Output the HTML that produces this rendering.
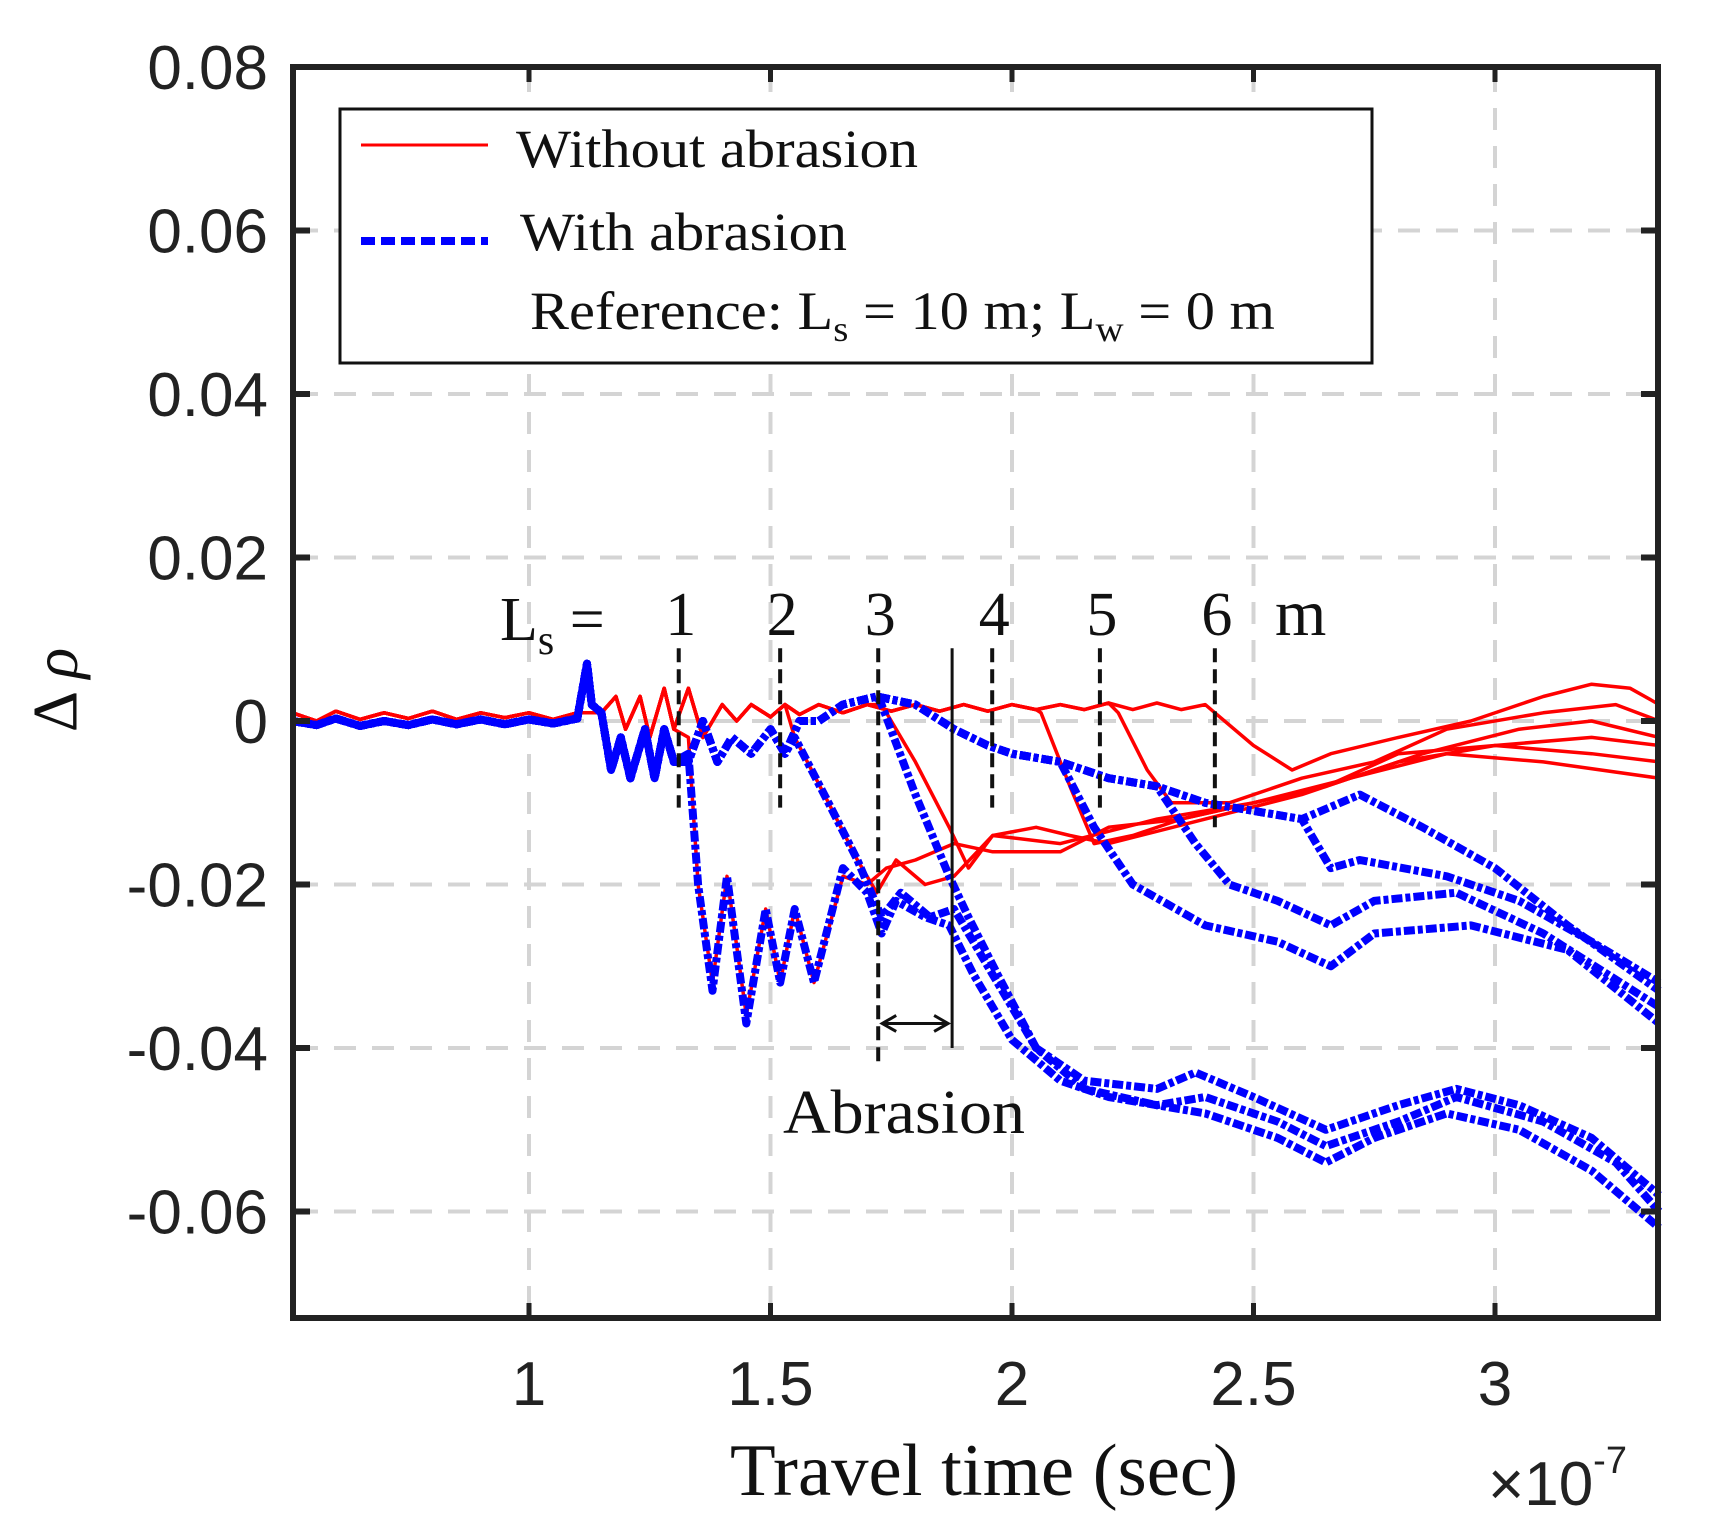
<!DOCTYPE html>
<html><head><meta charset="utf-8"><style>
html,body{margin:0;padding:0;background:#fff;}
svg{display:block;}
.tk{font-family:"Liberation Sans",sans-serif;font-size:62px;fill:#222;}
.sf{font-family:"Liberation Serif",serif;fill:#111;}
</style></head><body>
<svg id="chart" width="1713" height="1539" viewBox="0 0 1713 1539" xmlns="http://www.w3.org/2000/svg">
<g id="grid"></g>
<g id="series"></g>
<g id="annot"></g>
<rect x="293" y="67" width="1365" height="1251" fill="none" stroke="#222" stroke-width="6"/>
<g id="ticks"></g>
<text x="62" y="690" class="sf" font-size="64" text-anchor="middle" transform="rotate(-90 62 690)" dominant-baseline="middle">Δ <tspan font-style="italic">ρ</tspan></text>
<text x="730" y="1495" class="sf" font-size="74" textLength="508" lengthAdjust="spacingAndGlyphs">Travel time (sec)</text>
<text x="1488" y="1505" class="tk" font-size="50">×10<tspan dy="-32" font-size="38">-7</tspan></text>
<g>
<rect x="340" y="109" width="1032" height="254" fill="#fff" stroke="#111" stroke-width="3"/>
<line x1="361" y1="145" x2="488" y2="145" stroke="#ff0000" stroke-width="3"/>
<text x="516" y="167" class="sf" font-size="54" textLength="402" lengthAdjust="spacingAndGlyphs">Without abrasion</text>
<line x1="361" y1="241" x2="488" y2="241" stroke="#0000ff" stroke-width="8" stroke-dasharray="14 6"/>
<text x="520" y="250" class="sf" font-size="54" textLength="327" lengthAdjust="spacingAndGlyphs">With abrasion</text>
<text x="530" y="329" class="sf" font-size="54" textLength="745" lengthAdjust="spacingAndGlyphs">Reference: L<tspan dy="12" font-size="36">s</tspan><tspan dy="-12"> = 10 m; L</tspan><tspan dy="12" font-size="36">w</tspan><tspan dy="-12"> = 0 m</tspan></text>
</g>
</svg>
<script>
const xTicks=[1,1.5,2,2.5,3];
const xTickLabels=['1','1.5','2','2.5','3'];
const yTicks=[0.08,0.06,0.04,0.02,0,-0.02,-0.04,-0.06];
const yTickLabels=['0.08','0.06','0.04','0.02','0','-0.02','-0.04','-0.06'];
const redBase=[[0.51,0.001],[0.56,0],[0.6,0.0012],[0.65,0.0002],[0.7,0.001],[0.75,0.0003],[0.8,0.0012],[0.85,0.0002],[0.9,0.001],[0.95,0.0004],[1.0,0.001],[1.05,0.0002],[1.1,0.001],[1.15,0.001],[1.18,0.003],[1.2,-0.001],[1.23,0.003],[1.25,-0.002],[1.28,0.004],[1.3,-0.001],[1.33,0.004],[1.36,-0.002],[1.4,0.002],[1.43,0],[1.46,0.002],[1.5,0.0005],[1.53,0.002],[1.56,0.0008],[1.6,0.002],[1.65,0.001],[1.7,0.002],[1.75,0.0012],[1.8,0.002],[1.85,0.0012],[1.9,0.002],[1.95,0.0012],[2.0,0.002],[2.05,0.0014],[2.1,0.002],[2.15,0.0014],[2.2,0.0022],[2.25,0.0014],[2.3,0.0022],[2.35,0.0014],[2.4,0.002]];
const red1=[[1.33,-0.002],[1.35,-0.02],[1.38,-0.032],[1.41,-0.019],[1.45,-0.036],[1.49,-0.023],[1.52,-0.032],[1.55,-0.023],[1.59,-0.032],[1.65,-0.019],[1.7,-0.02],[1.74,-0.018],[1.8,-0.017],[1.88,-0.015],[1.96,-0.016],[2.1,-0.016],[2.2,-0.013],[2.35,-0.012],[2.5,-0.01],[2.65,-0.008],[2.8,-0.004],[3.0,-0.003],[3.2,-0.004],[3.34,-0.005]];
const red2=[[1.55,-0.002],[1.62,-0.01],[1.68,-0.017],[1.72,-0.021],[1.76,-0.017],[1.82,-0.02],[1.88,-0.019],[1.96,-0.014],[2.1,-0.015],[2.3,-0.012],[2.5,-0.01],[2.7,-0.007],[2.9,-0.004],[3.1,-0.005],[3.34,-0.007]];
const red3=[[1.73,0.002],[1.8,-0.005],[1.87,-0.013],[1.91,-0.018],[1.96,-0.014],[2.05,-0.013],[2.12,-0.014],[2.2,-0.015],[2.4,-0.012],[2.6,-0.009],[2.8,-0.005],[3.0,-0.003],[3.2,-0.002],[3.34,-0.003]];
const red4=[[2.06,0.001],[2.12,-0.008],[2.17,-0.015],[2.25,-0.014],[2.35,-0.012],[2.5,-0.01],[2.65,-0.008],[2.85,-0.004],[3.05,-0.001],[3.2,0],[3.34,-0.002]];
const red5=[[2.22,0.001],[2.28,-0.006],[2.33,-0.01],[2.45,-0.01],[2.6,-0.007],[2.75,-0.005],[2.9,-0.001],[3.1,0.001],[3.25,0.002],[3.34,0]];
const red6=[[2.42,0.001],[2.5,-0.003],[2.58,-0.006],[2.66,-0.004],[2.8,-0.002],[2.95,0.0],[3.1,0.003],[3.2,0.0045],[3.28,0.004],[3.34,0.002]];
const blueBase=[[0.51,0],[0.56,-0.0005],[0.6,0.0003],[0.65,-0.0006],[0.7,0],[0.75,-0.0005],[0.8,0.0002],[0.85,-0.0004],[0.9,0.0002],[0.95,-0.0004],[1.0,0.0002],[1.05,-0.0003],[1.1,0.0003],[1.12,0.007],[1.13,0.002],[1.15,0.001],[1.17,-0.006],[1.19,-0.002],[1.21,-0.007],[1.24,-0.001],[1.26,-0.007],[1.28,-0.001],[1.3,-0.005],[1.33,-0.005],[1.36,0],[1.39,-0.005],[1.42,-0.002],[1.46,-0.004],[1.5,-0.001],[1.53,-0.004],[1.56,0],[1.6,0.0],[1.65,0.002],[1.72,0.003],[1.8,0.002],[1.88,-0.001],[1.95,-0.003],[2.0,-0.004],[2.1,-0.005],[2.2,-0.007],[2.3,-0.008],[2.4,-0.01],[2.5,-0.011],[2.6,-0.012]];
const blue1=[[1.33,-0.004],[1.35,-0.02],[1.38,-0.033],[1.41,-0.019],[1.45,-0.037],[1.49,-0.023],[1.52,-0.032],[1.55,-0.023],[1.59,-0.032],[1.65,-0.018],[1.7,-0.021],[1.73,-0.026],[1.76,-0.022],[1.82,-0.024],[1.87,-0.025],[1.92,-0.031],[2.0,-0.039],[2.1,-0.044],[2.2,-0.046],[2.3,-0.047],[2.4,-0.048],[2.55,-0.051],[2.65,-0.054],[2.75,-0.051],[2.9,-0.048],[3.05,-0.05],[3.2,-0.055],[3.34,-0.062]];
const blue2=[[1.55,-0.002],[1.62,-0.01],[1.68,-0.017],[1.73,-0.024],[1.77,-0.021],[1.83,-0.024],[1.88,-0.023],[1.95,-0.03],[2.05,-0.04],[2.15,-0.044],[2.3,-0.045],[2.38,-0.043],[2.5,-0.046],[2.65,-0.05],[2.8,-0.047],[2.92,-0.045],[3.05,-0.047],[3.2,-0.051],[3.34,-0.058]];
const blue3=[[1.73,0.002],[1.8,-0.009],[1.87,-0.019],[1.91,-0.024],[1.97,-0.031],[2.05,-0.04],[2.15,-0.045],[2.3,-0.047],[2.4,-0.046],[2.55,-0.049],[2.65,-0.052],[2.8,-0.049],[2.92,-0.046],[3.1,-0.049],[3.25,-0.054],[3.34,-0.06]];
const blue4=[[2.1,-0.005],[2.17,-0.013],[2.25,-0.02],[2.4,-0.025],[2.55,-0.027],[2.66,-0.03],[2.75,-0.026],[2.95,-0.025],[3.15,-0.028],[3.34,-0.037]];
const blue5=[[2.3,-0.008],[2.38,-0.015],[2.45,-0.02],[2.55,-0.022],[2.66,-0.025],[2.75,-0.022],[2.92,-0.021],[3.1,-0.026],[3.34,-0.035]];
const blue6=[[2.6,-0.012],[2.66,-0.018],[2.72,-0.017],[2.9,-0.019],[3.05,-0.022],[3.2,-0.027],[3.34,-0.032]];
const blue7=[[2.6,-0.012],[2.72,-0.009],[2.85,-0.013],[3.0,-0.018],[3.15,-0.025],[3.34,-0.033]];
const markerX=[1.31,1.52,1.723,1.959,2.182,2.42];
const markerLabels=['1','2','3','4','5','6'];
const markerBottom=[-0.0106,-0.0106,-0.0417,-0.0106,-0.0106,-0.013];
const abrasionEnd=[1.876];

const NS='http://www.w3.org/2000/svg';
function X(v){return 529+(v-1)*483;}
function Y(v){return 721-v*8175;}
function mk(t,a,p){const e=document.createElementNS(NS,t);for(const k in a)e.setAttribute(k,a[k]);p.appendChild(e);return e;}
const grid=document.getElementById('grid'),ticks=document.getElementById('ticks'),ser=document.getElementById('series'),an=document.getElementById('annot');
xTicks.forEach((v,i)=>{
 const g=mk('line',{x1:X(v),x2:X(v),y1:70,y2:1315,stroke:'#d4d4d4','stroke-width':4,'stroke-dasharray':'22 16'},grid);
 
 
 const t1=mk('line',{x1:X(v),x2:X(v),y1:1318,y2:1303,stroke:'#222','stroke-width':5},ticks);
 
 
 const t2=mk('line',{x1:X(v),x2:X(v),y1:67,y2:82,stroke:'#222','stroke-width':5},ticks);
 
 
 const tx=mk('text',{x:X(v),y:1405,'text-anchor':'middle','class':'tk'},ticks);tx.textContent=xTickLabels[i];
 
 
});
yTicks.forEach((v,i)=>{
 if(i>0){const g=mk('line',{x1:296,x2:1655,y1:Y(v),y2:Y(v),stroke:'#d4d4d4','stroke-width':4,'stroke-dasharray':'22 16'},grid);
 
 }
 const t1=mk('line',{x1:293,x2:310,y1:Y(v),y2:Y(v),stroke:'#222','stroke-width':6},ticks);
 
 
 const t2=mk('line',{x1:1658,x2:1641,y1:Y(v),y2:Y(v),stroke:'#222','stroke-width':6},ticks);
 
 
 const tx=mk('text',{x:268,y:Y(v)+22,'text-anchor':'end','class':'tk'},ticks);tx.textContent=yTickLabels[i];
 
 
});
function full(base,tail){const x0=tail[0][0];return base.filter(p=>p[0]<x0).concat(tail);}
function path(pts){return pts.map((p,i)=>(i?'L':'M')+X(p[0]).toFixed(1)+' '+Y(p[1]).toFixed(1)).join(' ');}
[red1,red2,red3,red4,red5,red6].forEach((s,i)=>{
 const e=mk('path',{d:path(full(redBase,s)),fill:'none',stroke:'#ff0000','stroke-width':3.5,'stroke-linejoin':'round'},ser);
 
 
});
[blue1,blue2,blue3,blue4,blue5,blue6,blue7].forEach((s,i)=>{
 const e=mk('path',{d:path(full(blueBase,s)),fill:'none',stroke:'#0000ff','stroke-width':8,'stroke-dasharray':'11 3 5 3','stroke-linejoin':'round'},ser);
 
 
});
const bb=mk('path',{d:path(blueBase.filter(p=>p[0]<=1.33)),fill:'none',stroke:'#0000ff','stroke-width':8,'stroke-linejoin':'round'},ser);


markerX.forEach((v,i)=>{
 const l=mk('line',{x1:X(v),x2:X(v),y1:Y(0.0089),y2:Y(markerBottom[i]),stroke:'#111','stroke-width':4,'stroke-dasharray':'14 7'},an);
 
 
 const t=mk('text',{x:X(v)+2,y:635,'text-anchor':'middle','class':'sf','font-size':62},an);t.textContent=markerLabels[i];
 
 
});
const sl=mk('line',{x1:X(abrasionEnd[0]),x2:X(abrasionEnd[0]),y1:Y(0.0089),y2:Y(-0.04),stroke:'#111','stroke-width':3},an);


const ar=mk('path',{d:'M'+(X(markerX[2])+4)+' '+Y(-0.037)+' L'+(X(abrasionEnd[0])-4)+' '+Y(-0.037)+' M'+(X(markerX[2])+18)+' '+(Y(-0.037)-8)+' L'+(X(markerX[2])+4)+' '+Y(-0.037)+' L'+(X(markerX[2])+18)+' '+(Y(-0.037)+8)+' M'+(X(abrasionEnd[0])-18)+' '+(Y(-0.037)-8)+' L'+(X(abrasionEnd[0])-4)+' '+Y(-0.037)+' L'+(X(abrasionEnd[0])-18)+' '+(Y(-0.037)+8),fill:'none',stroke:'#111','stroke-width':3},an);


const at=mk('text',{x:904,y:1133,'text-anchor':'middle','class':'sf','font-size':62,textLength:242,lengthAdjust:'spacingAndGlyphs'},an);at.textContent='Abrasion';


const ls=mk('text',{x:500,y:640,'class':'sf','font-size':62},an);


ls.innerHTML='L<tspan dy="14" font-size="42">s</tspan><tspan dy="-14"> =</tspan>';
const mm=mk('text',{x:1275,y:635,'class':'sf','font-size':66},an);mm.textContent='m';


</script>
</body></html>
